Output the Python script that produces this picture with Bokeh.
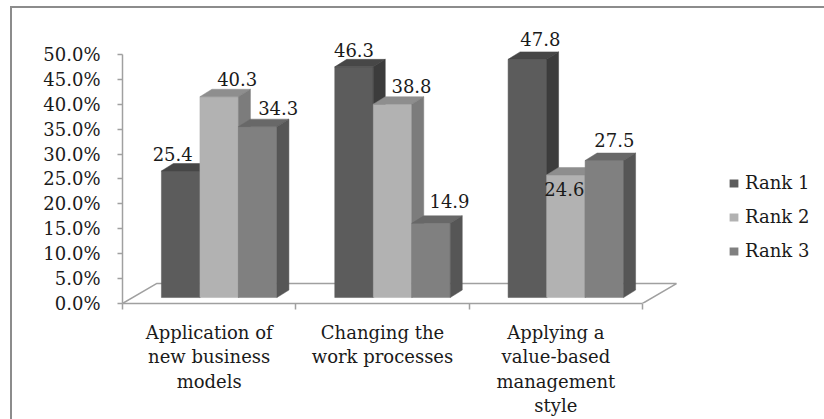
from bokeh.plotting import figure
from bokeh.models import (Range1d, FixedTicker, PrintfTickFormatter, Legend, LegendItem,
                          ColumnDataSource, InlineStyleSheet)
from bokeh.core.properties import value
from bokeh.embed import file_html
from bokeh.resources import INLINE

# ---------------- data ----------------
categories = ["Application of\nnew business\nmodels",
              "Changing the\nwork processes",
              "Applying a\nvalue-based\nmanagement\nstyle"]
series = ["Rank 1", "Rank 2", "Rank 3"]
rank1 = [25.4, 46.3, 47.8]
rank2 = [40.3, 38.8, 24.6]
rank3 = [34.3, 14.9, 27.5]
y_ticks = [0, 5, 10, 15, 20, 25, 30, 35, 40, 45, 50]

# ---------------- styles ----------------
FONT = "DejaVu Serif"
TXT = "#1a1a1a"
AX = "#a0a0a0"
front_c = ["#5c5c5c", "#b2b2b2", "#808080"]
top_c = ["#474747", "#8e8e8e", "#686868"]
side_c = ["#3c3c3c", "#7c7c7c", "#565656"]

PX_X = 520 / 3.0          # pixels per category unit
PX_Y = 5.0                # pixels per percent
FLOOR_DX, FLOOR_DY = 34 / PX_X, 20 / PX_Y
SHIFT_X, SHIFT_Y = 10 / PX_X, 6 / PX_Y
BAR_W = 38.5 / PX_X
BAR_DX, BAR_DY = 12 / PX_X, 7.5 / PX_Y

# per-label nudges in pixels (dx right, dy down)
label_nudge = [[(-8, -17), (18, -17.5), (20.5, -18.5)],
               [(0, -16.5), (19, -18), (18.5, -22)],
               [(13, -20), (-1.5, 14), (10, -20.5)]]

FRAME_L, FRAME_T, FRAME_B = 122, 20, 304
W, H = 824, 419

p = figure(width=W, height=H, output_backend="svg", toolbar_location=None,
           x_range=Range1d(0, (W - FRAME_L) / PX_X),
           y_range=Range1d(0, (FRAME_B - FRAME_T) / PX_Y),
           min_border_left=FRAME_L, min_border_right=0,
           min_border_top=FRAME_T, min_border_bottom=H - FRAME_B)
p.xgrid.visible = False
p.ygrid.visible = False
p.outline_line_color = None
p.background_fill_color = "white"
p.border_fill_color = "white"

# floor outline (front edge = x axis)
fx0, fx1 = 0, len(categories)
p.multi_line(xs=[[fx0, fx0 + FLOOR_DX, fx1 + FLOOR_DX, fx1]],
             ys=[[0, FLOOR_DY, FLOOR_DY, 0]], line_color=AX, line_width=1.5)

# 3D bars, one renderer per series (keeps left-to-right drawing order)
values = [rank1, rank2, rank3]
legend_items = []
lx, ly, ltxt = [], [], []
lxo, lyo = [], []
for j, vals in enumerate(values):
    xs, ys, cols = [], [], []
    for i, v in enumerate(vals):
        cx = i + 0.5 + SHIFT_X
        x0 = cx + (j - 1.5) * BAR_W
        x1 = x0 + BAR_W
        y0 = SHIFT_Y
        y1 = SHIFT_Y + v
        xs.append([x0, x1, x1, x0]); ys.append([y0, y0, y1, y1]); cols.append(front_c[j])
        xs.append([x0, x1, x1 + BAR_DX, x0 + BAR_DX]); ys.append([y1, y1, y1 + BAR_DY, y1 + BAR_DY]); cols.append(top_c[j])
        xs.append([x1, x1 + BAR_DX, x1 + BAR_DX, x1]); ys.append([y0, y0 + BAR_DY, y1 + BAR_DY, y1]); cols.append(side_c[j])
        lx.append((x0 + x1) / 2); ly.append(y1); ltxt.append(f"{v:.1f}")
        lxo.append(label_nudge[i][j][0]); lyo.append(label_nudge[i][j][1])
    src = ColumnDataSource(dict(xs=xs, ys=ys, c=cols))
    p.patches("xs", "ys", source=src, fill_color="c", line_color="c", line_width=0.5)
    # off-screen swatch used only for the legend
    dummy = p.quad(left=[-6], right=[-5], top=[-5], bottom=[-6],
                   fill_color=front_c[j], line_color=None)
    legend_items.append(LegendItem(label=series[j], renderers=[dummy]))

p.text(x=lx, y=ly, text=ltxt, x_offset=lxo, y_offset=lyo, text_align="center",
       text_baseline="middle", text_font=value(FONT), text_font_size="18px", text_color=TXT)

# y axis
ya = p.yaxis[0]
ya.ticker = FixedTicker(ticks=y_ticks, minor_ticks=[])
ya.formatter = PrintfTickFormatter(format="%.1f%%")
ya.bounds = (0, 50)
ya.axis_line_color = AX
ya.axis_line_width = 1.5
ya.major_tick_line_color = AX
ya.major_tick_line_width = 1.5
ya.major_tick_out = 5
ya.major_tick_in = 0
ya.minor_tick_line_color = None
ya.major_label_standoff = 17
ya.major_label_text_font = FONT
ya.major_label_text_font_size = "18px"
ya.major_label_text_color = TXT

# x axis
xa = p.xaxis[0]
xa.ticker = FixedTicker(ticks=[i + 0.5 for i in range(len(categories))],
                        minor_ticks=list(range(len(categories) + 1)))
xa.major_label_overrides = {i + 0.5: c for i, c in enumerate(categories)}
xa.bounds = (0, len(categories))
xa.axis_label = None
xa.axis_label_standoff = 0
xa.axis_line_color = AX
xa.axis_line_width = 1.5
xa.major_tick_line_color = None
xa.major_tick_out = 0
xa.major_tick_in = 0
xa.minor_tick_line_color = AX
xa.minor_tick_line_width = 1.5
xa.minor_tick_out = 6
xa.minor_tick_in = 0
xa.major_label_standoff = 12
xa.major_label_text_font = FONT
xa.major_label_text_font_size = "18px"
xa.major_label_text_color = TXT
xa.major_label_text_line_height = 1.17

# legend
legend = Legend(items=legend_items, location=(606, 42), orientation="vertical",
                label_text_font=FONT, label_text_font_size="18px", label_text_color=TXT,
                glyph_width=11, glyph_height=10, label_standoff=6, label_height=20,
                spacing=13, padding=0, margin=0, border_line_color=None,
                background_fill_alpha=0)
p.add_layout(legend)

# outer chart border (only top and left edges fall inside the picture)
p.stylesheets = [InlineStyleSheet(css="""
:host { position: relative; }
:host::after {
  content: ""; position: absolute; left: 10px; top: 6px; right: -20px; bottom: -20px;
  border-left: 2px solid #8c8c8c; border-top: 2px solid #8c8c8c;
  pointer-events: none; z-index: 10;
}
""")]

open("out.html", "w").write(file_html(p, INLINE))
